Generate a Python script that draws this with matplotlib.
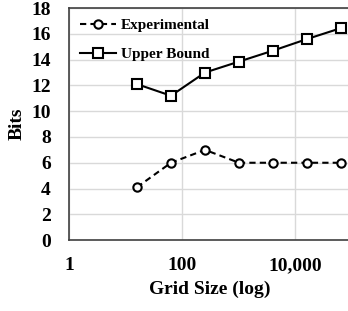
import matplotlib.pyplot as plt
from matplotlib.ticker import FixedLocator

plt.rcParams['font.family'] = 'Liberation Serif'
plt.rcParams['font.weight'] = 'bold'

grid_size = [16, 64, 256, 1024, 4096, 16384, 65536]
experimental = [4.1, 6.0, 7.0, 6.0, 6.0, 6.0, 6.0]
upper_bound = [12.1, 11.2, 13.0, 13.85, 14.7, 15.6, 16.45]
x_ticks = [1, 100, 10000]
x_tick_labels = ['1', '100', '10,000']

fig = plt.figure(figsize=(3.48, 3.11), dpi=100)
ax = fig.add_axes([0.198, 0.228, 0.812, 0.746])

ax.plot(grid_size, experimental, color='black', lw=1.5, dashes=(3, 2),
        marker='o', ms=6, mfc='white', mew=1.5, label='Experimental', zorder=3)
ax.plot(grid_size, upper_bound, '-', color='black', lw=1.5,
        marker='s', ms=7.5, mfc='white', mew=1.5, label='Upper Bound', zorder=3)

ax.set_xscale('log')
ax.set_xlim(1, 100000)
ax.set_ylim(0, 18)
ax.xaxis.set_major_locator(FixedLocator(x_ticks))
ax.xaxis.set_minor_locator(FixedLocator([]))
ax.set_xticklabels(x_tick_labels)
ax.set_yticks(range(0, 19, 2))
ax.tick_params(length=0, labelsize=14)
ax.tick_params(axis='x', pad=12)
ax.tick_params(axis='y', pad=13)
for lab in ax.get_xticklabels() + ax.get_yticklabels():
    lab.set_fontweight('bold')

ax.grid(True, color='#d9d9d9', lw=1)
ax.set_axisbelow(True)
for s in ax.spines.values():
    s.set_color('#404040')
    s.set_linewidth(1.2)

ax.set_xlabel('Grid Size (log)', fontsize=14, fontweight='bold', labelpad=5)
ax.set_ylabel('Bits', fontsize=14, fontweight='bold', labelpad=4)

ax.legend(loc='upper left', frameon=False, handlelength=2.4,
          borderaxespad=0.3, labelspacing=1.0, handletextpad=0.3,
          prop={'weight': 'bold', 'size': 11})

plt.savefig('out.png', dpi=100)
